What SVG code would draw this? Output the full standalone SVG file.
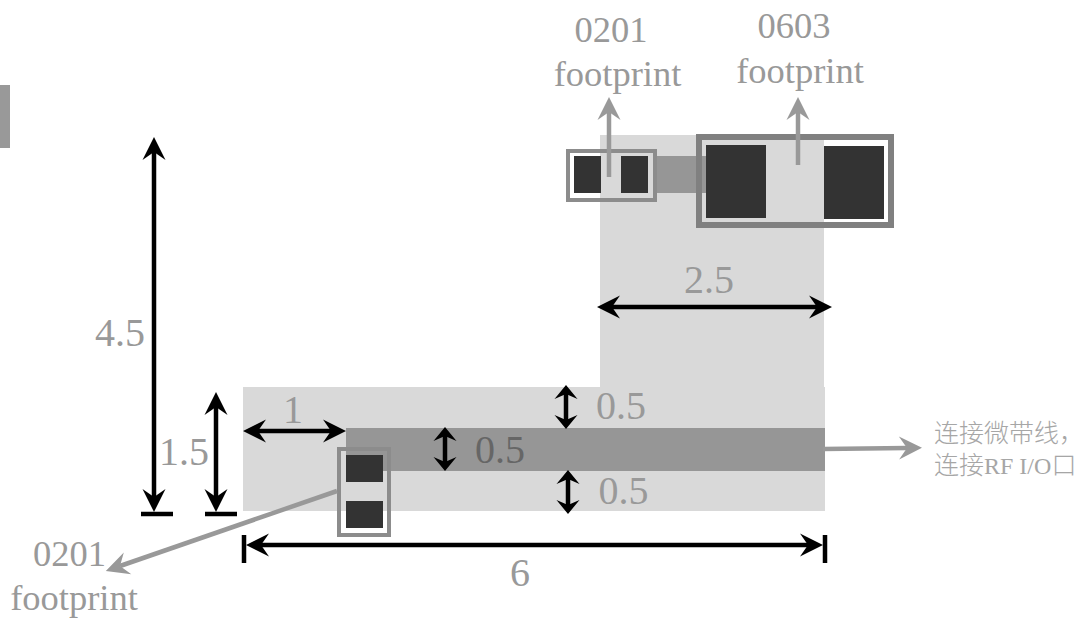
<svg xmlns="http://www.w3.org/2000/svg" width="1082" height="618" viewBox="0 0 1082 618">
<style>
.t{font-family:"Liberation Serif","Noto Sans CJK SC",serif;font-size:36.500px;fill:#999;text-anchor:middle}
.n{font-size:40px}
.c{font-family:"Liberation Serif","Noto Sans CJK SC",serif;font-size:25px;font-weight:300;fill:#a6a6a6}
.k{fill:none;stroke:#000;stroke-width:4.500}
.g{fill:none;stroke:#999;stroke-width:4.500}
.pad{fill:#333}
</style>
<defs>
<marker id="hk" markerUnits="userSpaceOnUse" markerWidth="28" markerHeight="28" viewBox="-2 -14 28 28" refX="8" refY="0" orient="auto-start-reverse"><path d="M0,-11.500L23,0L0,11.500L8,0z" fill="#000"/></marker>
<marker id="hs" markerUnits="userSpaceOnUse" markerWidth="20" markerHeight="28" viewBox="-2 -14 20 28" refX="5" refY="0" orient="auto-start-reverse"><path d="M0,-11.500L14,0L0,11.500L5,0z" fill="#000"/></marker>
<marker id="hg" markerUnits="userSpaceOnUse" markerWidth="28" markerHeight="28" viewBox="-2 -14 28 28" refX="8" refY="0" orient="auto"><path d="M0,-11.500L23,0L0,11.500L8,0z" fill="#999"/></marker>
</defs>
<rect id="side-bar" x="0" y="85" width="10" height="63" fill="#999"/>
<g id="substrate">
<path d="M243,387H600V135H824V387H825V511H243z" fill="#d9d9d9"/>
<rect x="346" y="428" width="479" height="43" fill="#969696"/>
<rect x="655" y="156" width="51" height="37" fill="#969696"/>
</g>
<g id="footprint-0201-top">
<rect x="568" y="151" width="32" height="49" fill="#fff"/>
<rect x="568" y="151" width="87" height="49" fill="none" stroke="#8c8c8c" stroke-width="4"/>
<rect class="pad" x="574" y="156" width="27" height="37"/>
<rect class="pad" x="621" y="156" width="27" height="37"/>
</g>
<g id="footprint-0603">
<rect x="824" y="137" width="67" height="88" fill="#fff"/>
<rect x="699" y="137" width="192" height="88" fill="none" stroke="#808080" stroke-width="6"/>
<rect class="pad" x="706" y="145" width="60" height="73"/>
<rect class="pad" x="824" y="146" width="60" height="73"/>
</g>
<g id="footprint-0201-bottom">
<rect x="339" y="511" width="50" height="24" fill="#fff"/>
<rect x="339" y="449" width="50" height="86" fill="none" stroke="#8c8c8c" stroke-width="4"/>
<rect class="pad" x="346" y="455" width="37" height="27"/>
<rect class="pad" x="346" y="501" width="37" height="27"/>
</g>
<g id="connectors">
<path class="k" d="M154,152V497" marker-start="url(#hk)" marker-end="url(#hk)"/>
<path class="k" d="M141,514H173"/>
<path class="k" d="M216,407V497" marker-start="url(#hk)" marker-end="url(#hk)"/>
<path class="k" d="M205,514H237"/>
<path class="k" d="M258,431H331" marker-start="url(#hk)" marker-end="url(#hk)"/>
<path class="k" d="M261,545H808" marker-start="url(#hk)" marker-end="url(#hk)"/>
<path class="k" d="M244,535V563M825,535V563"/>
<path class="k" d="M612,307H817" marker-start="url(#hk)" marker-end="url(#hk)"/>
<path class="k" d="M566,394V420" marker-start="url(#hs)" marker-end="url(#hs)"/>
<path class="k" d="M445,436V462" marker-start="url(#hs)" marker-end="url(#hs)"/>
<path class="k" d="M568,479V505" marker-start="url(#hs)" marker-end="url(#hs)"/>
<path class="g" d="M609,177V112" marker-end="url(#hg)"/>
<path class="g" d="M798,165V112" marker-end="url(#hg)"/>
<path class="g" d="M823,449L907,448" marker-end="url(#hg)"/>
<path class="g" d="M337,491L120,566" marker-end="url(#hg)"/>
</g>
<g id="labels">
<text class="t" x="611" y="42">0201</text>
<text class="t" x="617.500" y="86">footprint</text>
<text class="t" x="794" y="38">0603</text>
<text class="t" x="800" y="83">footprint</text>
<text class="t n" x="709" y="293">2.5</text>
<text class="t n" x="120" y="346">4.5</text>
<text class="t n" x="293" y="423">1</text>
<text class="t n" x="184" y="465">1.5</text>
<text class="t n" x="500" y="463" style="fill:#666">0.5</text>
<text class="t n" x="621" y="419">0.5</text>
<text class="t n" x="623.500" y="504">0.5</text>
<text class="t n" x="520" y="586">6</text>
<text class="t" x="69.500" y="566">0201</text>
<text class="t" x="74" y="610">footprint</text>
<text class="c" x="934" y="442">连接微带线，</text>
<text class="c" x="934" y="474">连接<tspan font-size="24">RF I/O</tspan>口</text>
</g>
</svg>
